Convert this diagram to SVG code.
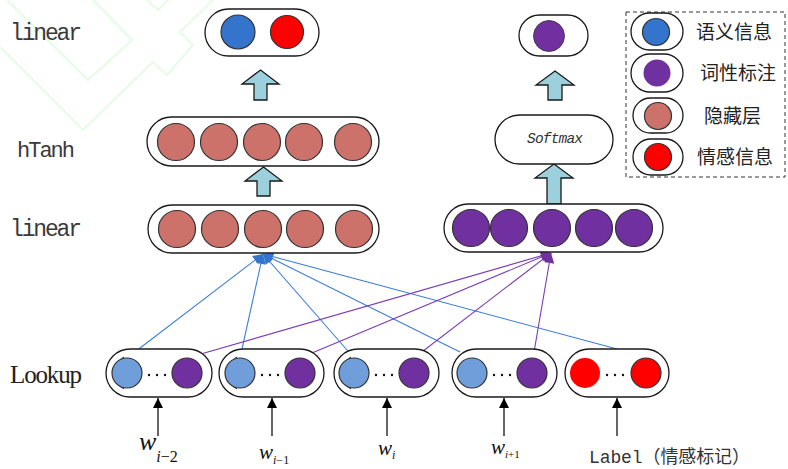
<svg xmlns="http://www.w3.org/2000/svg" width="788" height="469" viewBox="0 0 788 469">
<defs>
<style>
.pill{fill:#fff;stroke:#1a1a1a;stroke-width:1.3}
.c{stroke:#333;stroke-width:1.2}
.sem{fill:#3574CC}
.pos{fill:#7030A0}
.hid{fill:#CC726A}
.red{fill:#FF0000}
.lb{fill:#6F9EDB}
.blk{fill:#9BD0DC;stroke:#1a1a1a;stroke-width:1.3}
.mono{font-family:"Liberation Mono","Courier New",monospace;fill:#3a3a3a}
.cjk{font-family:"Noto Sans CJK SC","Noto Sans CJK JP",sans-serif;fill:#222;font-size:19px}
.bl{stroke:#3D7DD6;stroke-width:1.1;fill:none}
.pl{stroke:#7B3CB8;stroke-width:1.1;fill:none}
.up{stroke:#333;stroke-width:1.5}
.wm{fill:none;stroke:#E6FCE6;stroke-width:2.2}
.w{font-family:"Liberation Serif","Times New Roman",serif;font-style:italic;fill:#111}
</style>
<marker id="mb" viewBox="0 0 10 10" refX="10" refY="5" markerWidth="11" markerHeight="10" markerUnits="userSpaceOnUse" orient="auto"><path d="M0,0 L10,5 L0,10 z" fill="#3574CC"/></marker>
<marker id="mp" viewBox="0 0 10 10" refX="10" refY="5" markerWidth="11" markerHeight="10" markerUnits="userSpaceOnUse" orient="auto"><path d="M0,0 L10,5 L0,10 z" fill="#7030A0"/></marker>
<marker id="mk" viewBox="0 0 10 10" refX="10" refY="5" markerWidth="11" markerHeight="10" markerUnits="userSpaceOnUse" orient="auto"><path d="M0,0 L10,5 L0,10 z" fill="#000"/></marker>
</defs>
<rect width="788" height="469" fill="#fff"/>
<g id="watermark">
<polyline class="wm" points="7,0 88,80 132,40 93,0"/>
<polyline class="wm" points="0,47 83,130 153,62 167,75 193,45 180,32 213,0"/>
<polyline class="wm" points="147,0 158,10 168,0"/>
</g>
<g id="layer-labels">
<text class="mono" x="10" y="40" font-size="23" textLength="72">linear</text>
<text class="mono" x="17" y="157" font-size="22" textLength="58">hTanh</text>
<text class="mono" x="10" y="236" font-size="23" textLength="72">linear</text>
<text x="46" y="383" font-family="Liberation Serif,serif" font-size="25" fill="#222" text-anchor="middle" textLength="72">Lookup</text>
</g>
<g id="connectors">
<line class="bl" x1="127" y1="358" x2="263" y2="254" marker-end="url(#mb)"/>
<line class="bl" x1="240" y1="358" x2="263" y2="254" marker-end="url(#mb)"/>
<line class="bl" x1="354" y1="358" x2="263" y2="254" marker-end="url(#mb)"/>
<line class="bl" x1="460" y1="352" x2="263" y2="254" marker-end="url(#mb)"/>
<line class="bl" x1="617" y1="349" x2="263" y2="254" marker-end="url(#mb)"/>
<line class="pl" x1="187" y1="358" x2="551" y2="253" marker-end="url(#mp)"/>
<line class="pl" x1="300" y1="358" x2="551" y2="253" marker-end="url(#mp)"/>
<line class="pl" x1="414" y1="358" x2="551" y2="253" marker-end="url(#mp)"/>
<line class="pl" x1="533" y1="358" x2="551" y2="253" marker-end="url(#mp)"/>
<line class="up" x1="158" y1="436" x2="158" y2="398" marker-end="url(#mk)"/>
<line class="up" x1="272" y1="436" x2="272" y2="398" marker-end="url(#mk)"/>
<line class="up" x1="387" y1="436" x2="387" y2="398" marker-end="url(#mk)"/>
<line class="up" x1="504" y1="436" x2="504" y2="398" marker-end="url(#mk)"/>
<line class="up" x1="617" y1="436" x2="617" y2="398" marker-end="url(#mk)"/>
<path class="blk" d="M260.5,70 L279,84 L267,84 L267,100 L254,100 L254,84 L242,84 Z"/>
<path class="blk" d="M263.5,167 L282,181 L270,181 L270,196 L257,196 L257,181 L245,181 Z"/>
<path class="blk" d="M555,71 L574,85 L562,85 L562,100 L548,100 L548,85 L536,85 Z"/>
<path class="blk" d="M554,164 L573,178 L561,178 L561,204 L547,204 L547,178 L535,178 Z"/>
</g>
<g id="out-left">
<rect class="pill" x="205" y="9" width="114" height="47" rx="23.5"/>
<circle class="c sem" cx="238" cy="32" r="17"/>
<circle class="c red" cx="287" cy="32" r="16.5"/>
</g>
<g id="out-right">
<rect class="pill" x="519" y="15" width="69" height="41" rx="20.5"/>
<circle class="pos" cx="549" cy="36" r="15.5" stroke="#333" stroke-width="0.8"/>
</g>
<g id="htanh">
<rect class="pill" x="147" y="117" width="232" height="49" rx="24.5"/>
<circle class="c hid" cx="176" cy="142" r="18.5"/>
<circle class="c hid" cx="219" cy="142" r="18.5"/>
<circle class="c hid" cx="262" cy="142" r="18.5"/>
<circle class="c hid" cx="304" cy="142" r="18.5"/>
<circle class="c hid" cx="353" cy="142" r="18.5"/>
</g>
<g id="softmax">
<rect class="pill" x="495" y="115" width="118" height="49" rx="24.5"/>
<text x="527" y="143" font-family="Liberation Mono,monospace" font-style="italic" font-size="14.5" fill="#333" textLength="56">Softmax</text>
</g>
<g id="linear-hidden">
<rect class="pill" x="148" y="205" width="231" height="48" rx="24"/>
<circle class="c hid" cx="177" cy="229" r="18.5"/>
<circle class="c hid" cx="220" cy="229" r="18.5"/>
<circle class="c hid" cx="263" cy="229" r="18.5"/>
<circle class="c hid" cx="305" cy="229" r="18.5"/>
<circle class="c hid" cx="354" cy="229" r="18.5"/>
</g>
<g id="linear-pos">
<rect class="pill" x="444" y="204" width="219" height="48" rx="24"/>
<circle class="c pos" cx="471" cy="228" r="18.5"/>
<circle class="c pos" cx="509" cy="228" r="18.5"/>
<circle class="c pos" cx="552" cy="228" r="18.5"/>
<circle class="c pos" cx="594" cy="228" r="18.5"/>
<circle class="c pos" cx="634" cy="228" r="18.5"/>
</g>
<g id="lookup-1">
<rect class="pill" x="106" y="349" width="106" height="48" rx="24"/>
<path d="M124,357 A18,18 0 0 0 124,389" fill="none" stroke="#1a1a1a" stroke-width="1"/>
<circle class="c lb" cx="127" cy="373" r="15"/>
<circle class="c pos" cx="187" cy="373" r="15"/>
<g fill="#111"><circle cx="149" cy="375" r="1.2"/><circle cx="157" cy="375" r="1.2"/><circle cx="165" cy="375" r="1.2"/></g>
</g>
<g id="lookup-2">
<rect class="pill" x="219" y="349" width="105" height="48" rx="24"/>
<path d="M237,357 A18,18 0 0 0 237,389" fill="none" stroke="#1a1a1a" stroke-width="1"/>
<circle class="c lb" cx="240" cy="373" r="15"/>
<circle class="c pos" cx="300" cy="373" r="15"/>
<g fill="#111"><circle cx="262" cy="375" r="1.2"/><circle cx="270" cy="375" r="1.2"/><circle cx="278" cy="375" r="1.2"/></g>
</g>
<g id="lookup-3">
<rect class="pill" x="334" y="349" width="105" height="48" rx="24"/>
<path d="M351,357 A18,18 0 0 0 351,389" fill="none" stroke="#1a1a1a" stroke-width="1"/>
<circle class="c lb" cx="354" cy="373" r="15"/>
<circle class="c pos" cx="414" cy="373" r="15"/>
<g fill="#111"><circle cx="376" cy="375" r="1.2"/><circle cx="384" cy="375" r="1.2"/><circle cx="392" cy="375" r="1.2"/></g>
</g>
<g id="lookup-4">
<rect class="pill" x="452" y="349" width="105" height="48" rx="24"/>
<circle class="c lb" cx="472" cy="373" r="15"/>
<circle class="c pos" cx="532" cy="373" r="15"/>
<g fill="#111"><circle cx="494" cy="375" r="1.2"/><circle cx="502" cy="375" r="1.2"/><circle cx="510" cy="375" r="1.2"/></g>
</g>
<g id="lookup-5">
<rect class="pill" x="565" y="349" width="104" height="48" rx="24"/>
<circle class="red" cx="585" cy="373" r="15"/>
<circle class="c red" cx="646" cy="373" r="15"/>
<g fill="#111"><circle cx="607" cy="375" r="1.2"/><circle cx="615" cy="375" r="1.2"/><circle cx="623" cy="375" r="1.2"/></g>
</g>
<g id="inputs">
<text class="w" x="139" y="450" font-size="26">w<tspan font-size="16" dy="12">i</tspan><tspan font-style="normal" font-size="16">−2</tspan></text>
<text class="w" x="259" y="459" font-size="21">w<tspan font-size="12" dy="5">i</tspan><tspan font-style="normal" font-size="12">−1</tspan></text>
<text class="w" x="378" y="455" font-size="21">w<tspan font-size="12" dy="4">i</tspan></text>
<text class="w" x="491" y="454" font-size="21">w<tspan font-size="11" dy="4">i</tspan><tspan font-style="normal" font-size="11">+1</tspan></text>
<text x="589" y="463" font-family="Liberation Mono,'Noto Sans CJK SC',monospace" font-size="18" fill="#333" textLength="161">Label（情感标记）</text>
</g>
<g id="legend">
<rect x="626" y="12" width="159" height="165" fill="none" stroke="#333" stroke-width="1" stroke-dasharray="4,3"/>
<rect class="pill" x="631" y="13" width="52" height="37" rx="18.5"/>
<circle class="c sem" cx="656" cy="32" r="13.5"/>
<text class="cjk" x="696" y="39">语义信息</text>
<rect class="pill" x="631" y="54" width="52" height="38" rx="19"/>
<circle class="pos" cx="657" cy="73" r="13.5"/>
<text class="cjk" x="700" y="80">词性标注</text>
<rect class="pill" x="633" y="98" width="50" height="35" rx="17.5"/>
<circle class="c hid" cx="658" cy="116" r="13.5"/>
<text class="cjk" x="704" y="123">隐藏层</text>
<rect class="pill" x="633" y="139" width="50" height="36" rx="18"/>
<circle class="c red" cx="658" cy="157" r="13.5"/>
<text class="cjk" x="697" y="164">情感信息</text>
</g>
</svg>
